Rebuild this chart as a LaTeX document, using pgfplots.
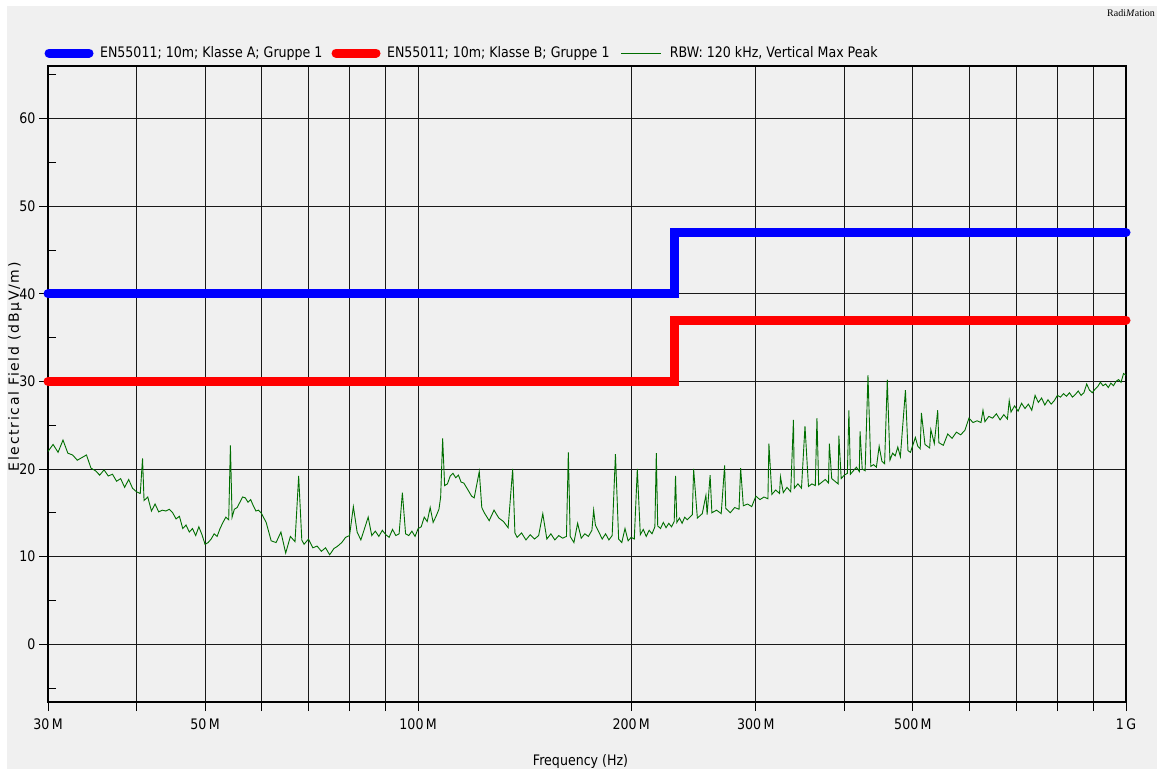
\documentclass[border=0pt]{standalone}
\usepackage{fontspec}
\setmainfont{DejaVu Sans}[FakeStretch=0.87]
\newfontfamily\ylabelfont{DejaVu Sans}[LetterSpace=12]
\newfontfamily\logofont{Liberation Serif}
\usepackage{pgfplots}
\usepackage{pgfplotstable}
\pgfplotsset{compat=1.18}
\definecolor{bggray}{RGB}{240,240,240}
\definecolor{limA}{RGB}{0,0,255}
\definecolor{limB}{RGB}{255,0,0}
\definecolor{trace}{RGB}{0,110,0}

\pgfplotsset{
  thicklegend/.style={legend image code/.code={\path (0pt,-5pt) (51pt,5pt); \draw[##1] (4.5pt,0pt) -- (44.5pt,0pt);}},
  thinlegend/.style={legend image code/.code={\path (0pt,-5pt) (48pt,5pt); \draw[##1] (0pt,0pt) -- (40pt,0pt);}},
}

% measured trace: frequency (MHz), field strength (dBuV/m)
\pgfplotstableread{
f dB
30 22.0
30.5 22.8
31 21.9
31.5 23.3
32 21.8
32.5 21.6
33 21.0
33.5 21.3
34 21.6
34.5 20.1
35 19.8
35.5 19.3
36 19.9
36.5 19.2
37 19.4
37.5 18.6
38 18.9
38.5 17.9
39 18.8
39.5 17.8
40 17.4
40.5 17.2
40.8 21.2
41 16.4
41.5 16.8
42 15.2
42.5 16.0
43 15.1
43.5 15.3
44 15.2
44.5 15.4
45 15.0
45.5 14.3
46 14.6
46.5 13.2
47 13.6
47.5 12.8
48 13.2
48.5 12.4
49 13.4
49.5 12.5
50 11.4
50.5 11.6
51 12.0
51.5 12.6
52 12.3
52.5 13.2
53 13.9
53.5 14.5
54 14.2
54.3 22.7
54.6 14.5
55 15.4
55.5 15.6
56 16.2
56.5 16.8
57 16.7
57.5 16.2
58 16.5
58.5 15.8
59 15.2
59.5 15.3
60 15.0
61 13.9
62 11.8
63 11.6
64 12.8
65 10.4
66 12.3
67 11.7
67.8 19.2
68.5 11.9
69 11.4
70 12.0
71 11.0
72 11.2
73 10.6
74 11.0
75 10.2
76 10.9
77 11.2
78 11.6
79 12.2
80 12.4
81 15.7
82 12.8
83 11.9
84 13.2
85 14.5
86 12.4
87 12.9
88 12.3
89 13.0
90 12.5
91 12.2
92 13.1
93 12.4
94 12.6
95 17.3
96 12.6
97 12.4
98 12.9
99 12.3
100 13.2
101 13.4
102 14.5
103 14.0
104 15.6
105 13.9
106 14.6
107 15.4
107.6 16.8
108.3 23.5
109 18.1
110 18.3
111 19.2
112 19.5
113 19.0
114 19.3
115 18.5
116 18.4
117 17.9
118 17.4
119 16.9
120 16.7
122 19.7
123 15.6
124 15.0
126 14.1
128 15.3
130 14.4
132 14.0
134 13.3
136 20.0
137 12.7
138 12.2
140 12.7
142 11.9
144 12.5
146 12.0
148 12.4
150 14.9
152 12.0
154 12.6
156 11.9
158 12.4
160 12.1
162 12.3
163 21.9
164 12.3
166 11.6
168 13.8
170 12.1
172 12.6
174 12.3
176 13.0
177 15.3
178 13.6
180 12.8
182 12.0
184 12.6
186 11.9
188 12.4
190 21.7
192 12.0
194 11.6
196 13.2
198 11.8
200 12.2
202 12.0
204 20.0
206 12.5
208 13.1
210 12.3
212 13.0
214 12.6
216 13.4
217 21.8
218 13.5
220 13.2
222 13.9
224 13.3
226 13.8
228 13.4
230 14.0
231 19.2
232 13.9
234 14.4
236 13.8
238 14.5
240 14.2
244 14.8
245 20.0
248 14.4
252 14.9
255 17.0
256 14.8
258.5 19.3
260 15.0
264 15.3
268 14.9
271 20.4
272 15.5
276 15.0
280 15.6
284 15.4
285.5 20.1
288 15.8
292 16.0
296 15.7
300 16.9
304 16.5
308 16.8
312 16.6
313 22.9
316 17.1
320 17.6
324 17.2
325 19.1
328 17.3
332 17.9
336 17.4
339 25.6
340 17.8
344 18.3
348 17.8
352 24.9
356 18.0
360 18.3
364 18.1
366 25.8
368 18.2
372 18.5
376 18.8
380 18.4
381 22.9
384 18.9
388 18.6
392 18.3
393 23.8
396 18.9
400 19.3
404 19.5
406 26.7
408 19.4
412 19.8
416 20.2
420 19.7
421 24.3
424 20.0
428 19.8
432 30.7
436 20.3
440 20.5
444 20.2
448 22.6
452 20.9
456 20.6
460 30.2
464 21.0
468 21.8
472 21.5
476 22.5
480 21.4
488 29.0
492 22.1
496 21.9
504 23.6
508 22.6
512 22.3
514 26.4
520 22.8
528 22.4
530 24.5
536 22.9
542 26.7
544 23.0
552 22.7
560 24.0
568 23.5
576 24.2
584 23.9
592 24.4
600 25.8
608 25.3
616 25.5
624 25.3
628 26.7
632 25.4
640 26.0
648 25.8
656 26.3
664 25.6
672 26.2
680 25.7
684 27.8
688 26.5
696 27.2
704 26.6
712 27.5
720 26.9
728 27.4
736 26.7
744 28.4
752 27.6
760 28.1
768 27.3
776 27.9
784 27.4
792 27.8
800 28.4
808 28.2
816 28.6
824 28.3
832 28.7
840 28.2
848 28.5
856 28.9
864 28.4
872 28.7
880 29.7
888 29.0
896 28.7
904 29.1
912 29.4
920 29.9
928 29.5
936 29.7
944 29.3
952 29.8
960 29.5
968 30.0
976 30.2
984 29.9
992 30.9
1000 30.7
}\tracedata

\begin{document}
\begin{tikzpicture}[x=1pt,y=1pt]
\useasboundingbox (-48,-67) rectangle (1109,702);
\fill[white] (-48,-67) rectangle (1109,702);
\fill[bggray] (-41,-67) rectangle (1109,696);
\node[anchor=east, inner sep=0pt, font=\logofont\fontsize{10}{12}\selectfont] at (1107,689) {Radi\textit{M}ation};
\begin{axis}[
    at={(0,0)}, anchor=south west,
    scale only axis, width=1078pt, height=636pt,
    xmode=log, xmin=30, xmax=1000,
    ymin=-6.6, ymax=66,
    xtick={30,40,50,60,70,80,90,100,200,300,400,500,600,700,800,900,1000},
    xticklabels={30\,M,,50\,M,,,,,100\,M,200\,M,300\,M,,500\,M,,,,,1\,G},
    minor xtick={},
    ytick={0,10,20,30,40,50,60},
    yticklabels={0,10,20,30,40,50,60},
    minor ytick={-5,5,15,25,35,45,55,65},
    xtick pos=bottom, ytick pos=left,
    tick align=outside,
    major tick length=9pt, minor tick length=-8pt,
    tick style={black, line width=0.9pt},
    xmajorgrids, ymajorgrids,
    major grid style={black!90, line width=0.9pt},
    axis line style={black, line width=1.4pt},
    ticklabel style={font=\fontsize{14.5}{16}\selectfont},
    xticklabel style={yshift=-4pt},
    xlabel={Frequency (Hz)},
    ylabel={Electrical Field (dBµV/m)},
    xlabel style={at={(axis description cs:0.494,-0.0928)}, anchor=center, font=\fontsize{14.5}{16}\selectfont},
    ylabel style={at={(axis description cs:-0.0306,0.527)}, anchor=center, font=\ylabelfont\fontsize{14}{16}\selectfont},
    clip=false,
    legend columns=3,
    legend cell align=left,
    legend style={at={(axis description cs:-0.0074,1.0204)}, anchor=west,
      draw=none, fill=none, inner sep=0pt, outer sep=0pt,
      /tikz/column sep=0pt, nodes={inner sep=0pt},
      cells={anchor=west}, font=\fontsize{14.5}{16}\selectfont},
  ]
  \addplot[limA, line width=9pt, line cap=round, thicklegend]
    coordinates {(30,40) (230,40) (230,47) (1000,47)};
  \addlegendentry{\makebox[227pt][l]{EN55011; 10m; Klasse A; Gruppe 1}}
  \addplot[limB, line width=9pt, line cap=round, thicklegend]
    coordinates {(30,30) (230,30) (230,37) (1000,37)};
  \addlegendentry{\makebox[234pt][l]{EN55011; 10m; Klasse B; Gruppe 1}}
  \addplot[trace, line width=0.9pt, thinlegend]
    table[x=f, y=dB] {\tracedata};
  \addlegendentry{RBW: 120 kHz, Vertical Max Peak}
\end{axis}
\end{tikzpicture}
\end{document}
